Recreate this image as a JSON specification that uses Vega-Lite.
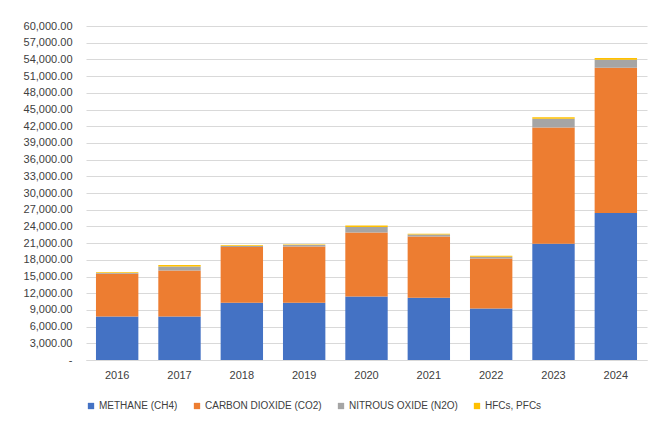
{
  "$schema": "https://vega.github.io/schema/vega-lite/v6.json",
  "autosize": {"type": "none"},
  "width": 561,
  "height": 334,
  "padding": {"left": 86, "top": 26, "right": 7, "bottom": 61},
  "background": "white",
  "data": {
    "values": [
      {"year": "2016", "gas": "METHANE (CH4)", "rank": 1, "value": 7800},
      {"year": "2016", "gas": "CARBON DIOXIDE (CO2)", "rank": 2, "value": 7700},
      {"year": "2016", "gas": "NITROUS OXIDE (N2O)", "rank": 3, "value": 120},
      {"year": "2016", "gas": "HFCs, PFCs", "rank": 4, "value": 130},
      {"year": "2017", "gas": "METHANE (CH4)", "rank": 1, "value": 7800},
      {"year": "2017", "gas": "CARBON DIOXIDE (CO2)", "rank": 2, "value": 8300},
      {"year": "2017", "gas": "NITROUS OXIDE (N2O)", "rank": 3, "value": 700},
      {"year": "2017", "gas": "HFCs, PFCs", "rank": 4, "value": 250},
      {"year": "2018", "gas": "METHANE (CH4)", "rank": 1, "value": 10300},
      {"year": "2018", "gas": "CARBON DIOXIDE (CO2)", "rank": 2, "value": 10000},
      {"year": "2018", "gas": "NITROUS OXIDE (N2O)", "rank": 3, "value": 200},
      {"year": "2018", "gas": "HFCs, PFCs", "rank": 4, "value": 120},
      {"year": "2019", "gas": "METHANE (CH4)", "rank": 1, "value": 10300},
      {"year": "2019", "gas": "CARBON DIOXIDE (CO2)", "rank": 2, "value": 10100},
      {"year": "2019", "gas": "NITROUS OXIDE (N2O)", "rank": 3, "value": 250},
      {"year": "2019", "gas": "HFCs, PFCs", "rank": 4, "value": 120},
      {"year": "2020", "gas": "METHANE (CH4)", "rank": 1, "value": 11400},
      {"year": "2020", "gas": "CARBON DIOXIDE (CO2)", "rank": 2, "value": 11500},
      {"year": "2020", "gas": "NITROUS OXIDE (N2O)", "rank": 3, "value": 1000},
      {"year": "2020", "gas": "HFCs, PFCs", "rank": 4, "value": 250},
      {"year": "2021", "gas": "METHANE (CH4)", "rank": 1, "value": 11200},
      {"year": "2021", "gas": "CARBON DIOXIDE (CO2)", "rank": 2, "value": 11000},
      {"year": "2021", "gas": "NITROUS OXIDE (N2O)", "rank": 3, "value": 350},
      {"year": "2021", "gas": "HFCs, PFCs", "rank": 4, "value": 150},
      {"year": "2022", "gas": "METHANE (CH4)", "rank": 1, "value": 9250},
      {"year": "2022", "gas": "CARBON DIOXIDE (CO2)", "rank": 2, "value": 9000},
      {"year": "2022", "gas": "NITROUS OXIDE (N2O)", "rank": 3, "value": 300},
      {"year": "2022", "gas": "HFCs, PFCs", "rank": 4, "value": 200},
      {"year": "2023", "gas": "METHANE (CH4)", "rank": 1, "value": 20900},
      {"year": "2023", "gas": "CARBON DIOXIDE (CO2)", "rank": 2, "value": 20850},
      {"year": "2023", "gas": "NITROUS OXIDE (N2O)", "rank": 3, "value": 1600},
      {"year": "2023", "gas": "HFCs, PFCs", "rank": 4, "value": 250},
      {"year": "2024", "gas": "METHANE (CH4)", "rank": 1, "value": 26400},
      {"year": "2024", "gas": "CARBON DIOXIDE (CO2)", "rank": 2, "value": 26100},
      {"year": "2024", "gas": "NITROUS OXIDE (N2O)", "rank": 3, "value": 1450},
      {"year": "2024", "gas": "HFCs, PFCs", "rank": 4, "value": 300}
    ]
  },
  "mark": {"type": "bar"},
  "encoding": {
    "x": {
      "field": "year",
      "type": "ordinal",
      "scale": {"paddingInner": 0.32, "paddingOuter": 0.16},
      "axis": {
        "title": null,
        "labelAngle": 0,
        "ticks": false,
        "domainColor": "#d9d9d9",
        "labelPadding": 9,
        "labelFont": "Liberation Sans",
        "labelFontSize": 11,
        "labelColor": "#404040",
        "grid": false
      }
    },
    "y": {
      "field": "value",
      "type": "quantitative",
      "stack": "zero",
      "scale": {"domain": [0, 60000], "nice": false},
      "axis": {
        "title": null,
        "values": [0, 3000, 6000, 9000, 12000, 15000, 18000, 21000, 24000, 27000, 30000, 33000, 36000, 39000, 42000, 45000, 48000, 51000, 54000, 57000, 60000],
        "labelExpr": "datum.value == 0 ? '-' : format(datum.value, ',.2f')",
        "ticks": false,
        "domain": false,
        "gridColor": "#d9d9d9",
        "labelPadding": 14,
        "labelFont": "Liberation Sans",
        "labelFontSize": 11,
        "labelColor": "#404040"
      }
    },
    "color": {
      "field": "gas",
      "type": "nominal",
      "scale": {
        "domain": ["METHANE (CH4)", "CARBON DIOXIDE (CO2)", "NITROUS OXIDE (N2O)", "HFCs, PFCs"],
        "range": ["#4472C4", "#ED7D31", "#A5A5A5", "#FFC000"]
      },
      "legend": {
        "title": null,
        "orient": "none",
        "direction": "horizontal",
        "legendX": 0,
        "legendY": 375,
        "symbolType": "square",
        "symbolSize": 40,
        "symbolStrokeWidth": 0,
        "labelFont": "Liberation Sans",
        "labelFontSize": 10,
        "labelColor": "#404040",
        "labelOffset": 3,
        "columnPadding": 14
      }
    },
    "order": {"field": "rank", "type": "quantitative", "sort": "ascending"}
  },
  "config": {"view": {"stroke": null}}
}
